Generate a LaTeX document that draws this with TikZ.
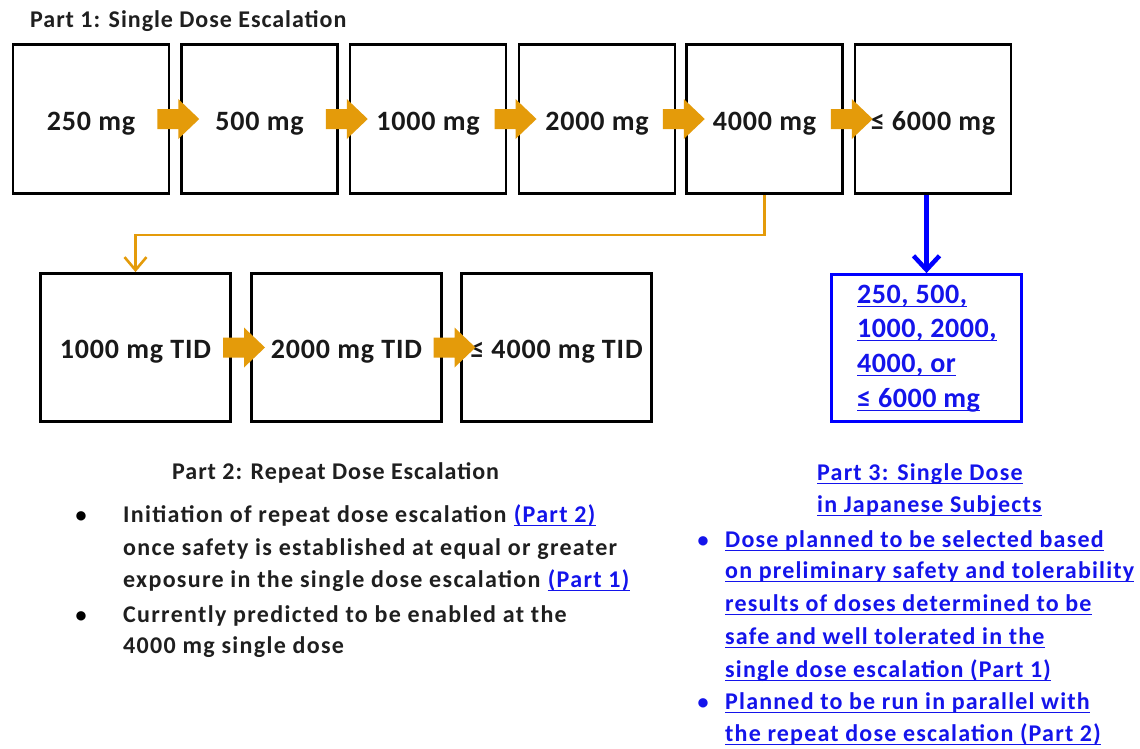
\documentclass[tikz,border=0pt]{standalone}
\usepackage{fontspec}
\setmainfont{Carlito}
\newfontfamily\fnttitle{Carlito}[LetterSpace=4]
\newfontfamily\fntbody{Carlito}[LetterSpace=5.5]
\newfontfamily\fntblue{Carlito}[LetterSpace=5]
\newfontfamily\fntbx{Carlito}[LetterSpace=3]
\newfontfamily\fntpb{Carlito}[LetterSpace=2]
\usetikzlibrary{arrows.meta,calc}
\definecolor{orng}{RGB}{228,155,10}
\definecolor{lnk}{RGB}{20,20,235}
\definecolor{pblue}{RGB}{0,0,255}
\newcommand\blkarrow[2]{%
  \fill[orng] ($(#1.east)!0.5!(#2.west)+(3,0)$) ++(-21,-10) -- ++(21,0) -- ++(0,-10)
    -- ++(21,20) -- ++(-21,20) -- ++(0,-10) -- ++(-21,0) -- cycle;}
\newcommand\ulnode[1]{%
  \draw[draw=lnk, line width=1.5pt] ([yshift=-3.5pt]#1.base west) -- ([yshift=-3.5pt]#1.base east);}
\tikzset{
  bxa/.style={draw=black, line width=2.8pt, minimum width=156pt, minimum height=149pt,
    inner sep=0pt, text height=22pt, text depth=0pt,
    font=\fntbx\fontsize{28}{32}\selectfont\bfseries, text=black!90},
  bxb/.style={bxa, minimum width=190pt, minimum height=148pt},
  pbox/.style={draw=pblue, line width=2.8pt, minimum width=190pt, minimum height=147pt, inner sep=0pt},
  ttl/.style={anchor=base west, inner sep=0pt, font=\fnttitle\fontsize{24}{28}\selectfont\bfseries, text=black!88},
  bodytxt/.style={anchor=base west, inner sep=0pt, font=\fntbody\fontsize{24}{28}\selectfont\bfseries, text=black!88},
  linktxt/.style={bodytxt, text=lnk},
  bluetxt/.style={anchor=base west, inner sep=0pt, font=\fntblue\fontsize{24}{28}\selectfont\bfseries, text=lnk},
  boxtxt/.style={anchor=base west, inner sep=0pt, font=\fntpb\fontsize{28}{32}\selectfont\bfseries, text=lnk},
  bul/.style={anchor=base, inner sep=0pt, font=\fontsize{22}{26}\selectfont\bfseries},
  oline/.style={draw=orng, line width=2.6pt, -{Straight Barb[length=13pt,width=22pt]}},
  bline/.style={draw=pblue, line width=4.5pt, -{Straight Barb[length=14pt,width=26pt]}}
}
\begin{document}
\begin{tikzpicture}[x=1pt,y=-1pt]
\useasboundingbox (0,0) rectangle (1140,748);
\fill[white] (0,0) rectangle (1140,748);

\node[ttl] (t1) at (30,27) {Part 1: Single Dose Escalation};

\node[bxa] (b1) at (91,119) {250 mg};
\node[bxa] (b2) at (259.5,119) {500 mg};
\node[bxa] (b3) at (428,119) {1000 mg};
\node[bxa] (b4) at (597,119) {2000 mg};
\node[bxa] (b5) at (764.5,119) {4000 mg};
\node[bxa] (b6) at (933,119) {≤ 6000 mg};

\node[bxb] (r1) at (135.5,347.5) {1000 mg TID};
\node[bxb] (r2) at (346.5,347.5) {2000 mg TID};
\node[bxb] (r3) at (556.5,347.5) {≤ 4000 mg TID};

\node[pbox] (pb) at (926.5,348) {};
\node[boxtxt] (p1) at (857,303) {250, 500,};
\node[boxtxt] (p2) at (857,337) {1000, 2000,};
\node[boxtxt] (p3) at (857,372) {4000, or};
\node[boxtxt] (p4) at (857,407) {≤ 6000 mg};
\ulnode{p1}\ulnode{p2}\ulnode{p3}\ulnode{p4}

\blkarrow{b1}{b2}
\blkarrow{b2}{b3}
\blkarrow{b3}{b4}
\blkarrow{b4}{b5}
\blkarrow{b5}{b6}
\blkarrow{r1}{r2}
\blkarrow{r2}{r3}

\draw[oline] (b5.south) -- ++(0,40) -| (r1.north);
\draw[bline] (pb.north |- b6.south) -- (pb.north);

\node[ttl] (t2) at (172,479) {Part 2: Repeat Dose Escalation};
\node[bul] (u1) at (81,522) {\textbullet};
\node[bodytxt] (l1) at (123,522) {Initiation of repeat dose escalation};
\node[linktxt] (l1b) at ([xshift=7pt]l1.base east) {(Part 2)};
\node[bodytxt] (l2) at (123,555) {once safety is established at equal or greater};
\node[bodytxt] (l3) at (123,587) {exposure in the single dose escalation};
\node[linktxt] (l3b) at ([xshift=7pt]l3.base east) {(Part 1)};
\ulnode{l1b}\ulnode{l3b}
\node[bul] (u2) at (81,622) {\textbullet};
\node[bodytxt] (l4) at (123,622) {Currently predicted to be enabled at the};
\node[bodytxt] (l5) at (123,653) {4000 mg single dose};

\node[bluetxt] (t3) at (817,480) {Part 3: Single Dose};
\node[bluetxt] (t3b) at (817,512) {in Japanese Subjects};
\node[bul, text=lnk] (v1) at (703,547) {\textbullet};
\node[bluetxt] (m1) at (725,547) {Dose planned to be selected based};
\node[bluetxt] (m2) at (725,578) {on preliminary safety and tolerability};
\node[bluetxt] (m3) at (725,611) {results of doses determined to be};
\node[bluetxt] (m4) at (725,644) {safe and well tolerated in the};
\node[bluetxt] (m5) at (725,677) {single dose escalation (Part 1)};
\node[bul, text=lnk] (v2) at (703,709) {\textbullet};
\node[bluetxt] (m6) at (725,709) {Planned to be run in parallel with};
\node[bluetxt] (m7) at (725,741) {the repeat dose escalation (Part 2)};
\ulnode{t3}\ulnode{t3b}\ulnode{m1}\ulnode{m2}\ulnode{m3}\ulnode{m4}\ulnode{m5}\ulnode{m6}\ulnode{m7}
\end{tikzpicture}
\end{document}
